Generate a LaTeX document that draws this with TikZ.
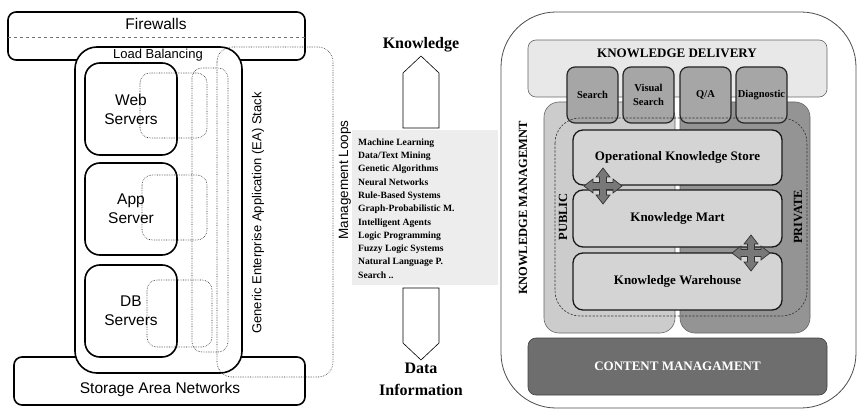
\documentclass[tikz,border=0pt]{standalone}
\usepackage{fontspec}
\setmainfont{Liberation Serif}
\setsansfont{Liberation Sans}

\tikzset{
  heavy/.style={draw, line width=1.6pt, rounded corners=#1}, heavy/.default=8pt,
  dotbox/.style={draw=black!85, line width=.6pt, dash pattern=on .6pt off 1.1pt, rounded corners=#1}, dotbox/.default=10pt,
  sans/.style={font=\sffamily\fontsize{15.5}{19}\selectfont, align=center},
  sanssmall/.style={font=\sffamily\fontsize{13}{15}\selectfont},
  serif/.style={font=\bfseries\fontsize{#1}{#1}\selectfont, align=center}, serif/.default=13,
  softbox/.style={draw=black!60, line width=.6pt, rounded corners=#1}, softbox/.default=8pt,
  tool/.style={draw=black!85, line width=1.2pt, fill=black!35, rounded corners=8pt},
  store/.style={draw=black!90, line width=1.3pt, fill=black!17, rounded corners=10pt},
  pics/quadarrow/.style={code={
    \draw[fill=black!53, draw=black!80, line width=.7pt]
      (3.5,3.5)--(10,3.5)--(10,7)--(19,0)--(10,-7)--(10,-3.5)--(3.5,-3.5)
      --(3.5,-9)--(7,-9)--(0,-18)--(-7,-9)--(-3.5,-9)--(-3.5,-3.5)
      --(-10,-3.5)--(-10,-7)--(-19,0)--(-10,7)--(-10,3.5)--(-3.5,3.5)
      --(-3.5,9)--(-7,9)--(0,18)--(7,9)--(3.5,9)--cycle;
  }}
}

\begin{document}
\begin{tikzpicture}[x=1pt,y=-1pt]
\useasboundingbox (0,0) rectangle (857,409);

% EA stack
\draw[heavy] (8,12) rectangle (305,60);
\draw[black!55, dashed, line width=.5pt] (8,37) -- (305,37);
\node[sans] (fw) at (156,24) {Firewalls};
\draw[heavy] (14,357) rectangle (305,405);
\node[sans] (san) at (160,389) {Storage Area Networks};
\draw[heavy=22pt, fill=white] (75,47) rectangle (242,373);
\node[sanssmall] (lb) at (158,55) {Load Balancing};
\draw[heavy=15pt] (85,63) rectangle (177,155) node[midway, sans] (web) {Web\\Servers};
\draw[heavy=15pt] (85,163) rectangle (177,255) node[midway, sans] (app) {App\\Server};
\draw[heavy=15pt] (85,265) rectangle (177,357) node[midway, sans] (db) {DB\\Servers};
\draw[dotbox] (140,73) rectangle (207,138);
\draw[dotbox] (142,175) rectangle (207,240);
\draw[dotbox] (147,280) rectangle (212,347);
\draw[dotbox] (192,68) rectangle (228,352);
\draw[dotbox=15pt] (217,47) rectangle (333,377);
\node[sanssmall, rotate=90] (ea) at (258,213) {Generic Enterprise Application (EA) Stack};
\node[sanssmall, font=\sffamily\fontsize{13.5}{15}\selectfont, rotate=90] (loops) at (345,180) {Management Loops};

% techniques
\fill[black!7] (352,130) rectangle (498,285);
\node[font=\bfseries\fontsize{9.6}{13.3}\selectfont, align=left, anchor=west, inner sep=0] (tech) at (358,208.5)
  {Machine Learning\\Data/Text Mining\\Genetic Algorithms\\Neural Networks\\Rule-Based Systems\\
   Graph-Probabilistic M.\\Intelligent Agents\\Logic Programming\\Fuzzy Logic Systems\\Natural Language P.\\Search ..};
\draw[line width=.6pt] (403,128)--(403,73)--(421,56)--(439,73)--(439,128)--cycle;
\draw[line width=.6pt] (403,288)--(439,288)--(439,343)--(421,360)--(403,343)--cycle;
\node[serif=16] (know) at (421,45) {Knowledge};
\node[serif=16, font=\bfseries\fontsize{16}{22}\selectfont] (data) at (421,379) {Data\\Information};

% knowledge management
\draw[black!70, line width=.8pt, rounded corners=55pt] (501,12) rectangle (856,408);
\node[serif=12.5, rotate=90] (km) at (523,208) {KNOWLEDGE MANAGEMNT};
\draw[softbox, fill=black!9] (528,40) rectangle (827,97);
\node[serif] (kd) at (677,53) {KNOWLEDGE DELIVERY};
\draw[softbox=15pt, fill=black!20] (544,102) rectangle (675,333);
\draw[softbox=15pt, fill=black!42] (680,102) rectangle (810,333);
\draw[tool] (567,67) rectangle (618,123) node[midway, serif=10.5] (search) {Search};
\draw[tool] (623,67) rectangle (674,123) node[midway, serif=10.5, font=\bfseries\fontsize{10.5}{14}\selectfont] (visual) {Visual\\Search};
\draw[tool] (680,67) rectangle (731,123) node[midway, serif=10.5] (qa) {Q/A};
\draw[tool] (736,67) rectangle (787,123) node[midway, serif=10.5] (diag) {Diagnostic};
\draw[black!80, line width=.6pt, dash pattern=on 2.2pt off 1.5pt, rounded corners=25pt] (555,118) rectangle (807,316);
\node[serif=12.5, rotate=90] (pub) at (563,217) {PUBLIC};
\node[serif=12.5, rotate=90] (priv) at (798,217) {PRIVATE};
\draw[store] (573,130) rectangle (782,185) node[midway, serif] (oks) {Operational Knowledge Store};
\draw[store] (573,190) rectangle (782,247) node[midway, serif] (mart) {Knowledge Mart};
\draw[store] (573,253) rectangle (782,310) node[midway, serif] (wh) {Knowledge Warehouse};
\pic at (603,186) {quadarrow};
\pic at (751,253) {quadarrow};
\draw[softbox, fill=black!57, draw=black!75] (528,338) rectangle (827,395)
  node[midway, serif, text=white] (cm) {CONTENT MANAGAMENT};

\end{tikzpicture}
\end{document}
